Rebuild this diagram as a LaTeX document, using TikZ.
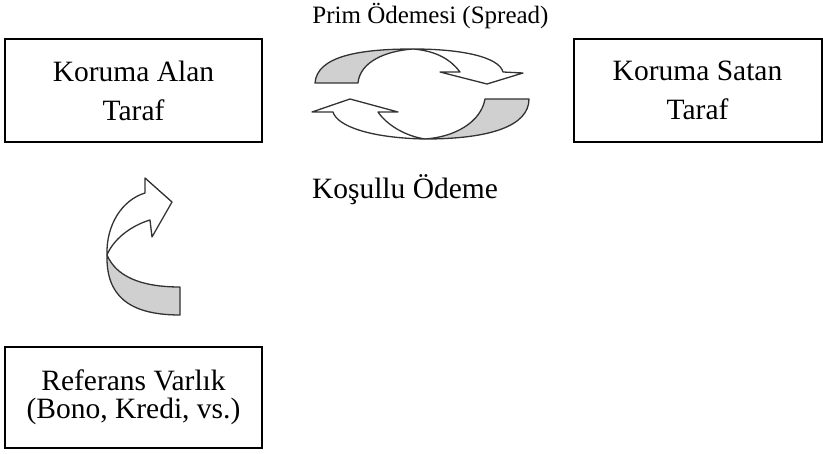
\documentclass[tikz,border=0pt]{standalone}
\usepackage{fontspec}
\setmainfont{Liberation Serif}
\definecolor{shade}{RGB}{208,208,208}
\definecolor{edge}{RGB}{50,50,50}
\tikzset{
  box/.style={draw=black, line width=2pt, align=center, inner sep=0pt,
    font=\fontsize{29.5}{39}\selectfont},
  lbl/.style={anchor=base, inner sep=0pt},
  band/.style={draw=edge, line width=1.3pt, line join=round},
}
\begin{document}
\begin{tikzpicture}[x=1pt,y=-1pt]
\useasboundingbox (0,0) rectangle (823,454);
% boxes
\node[box, minimum width=257pt, minimum height=103pt] (alan) at (133.5,90.5) {Koruma Alan\\Taraf};
\node[box, minimum width=248pt, minimum height=103pt] (satan) at (697.5,90.5) {Koruma Satan\\Taraf};
\node[box, minimum width=257pt, minimum height=101pt, font=\fontsize{29.5}{28}\selectfont] (ref) at (133.5,397.5) {Referans Varlık\\(Bono, Kredi, vs.)};
% labels
\node[lbl, font=\fontsize{25}{30}\selectfont] (prim) at (430.5,24) {Prim Ödemesi (Spread)};
\node[lbl, font=\fontsize{29.5}{38}\selectfont] (kosul) at (405,199) {Koşullu Ödeme};
% upper circular arrow
\draw[band, fill=shade] (315,83) .. controls (317,56) and (360,49) .. (413,49)
  .. controls (385,51) and (360,62) .. (358,83) -- cycle;
\draw[band, fill=white] (413,49) .. controls (462,49) and (499,57) .. (503,72)
  -- (523,73) -- (487,84) -- (440,72) -- (460,72)
  .. controls (451,60) and (437,51) .. (413,49) -- cycle;
% lower circular arrow
\draw[band, fill=shade] (529,99) .. controls (529,126) and (490,139) .. (425,139)
  .. controls (455,137) and (481,122) .. (485,99) -- cycle;
\draw[band, fill=white] (425,139) .. controls (370,138) and (337,126) .. (333,112)
  -- (312,112) -- (350,99) -- (398,112) -- (378,112)
  .. controls (387,125) and (405,136) .. (425,139) -- cycle;
% left curved arrow
\draw[band, fill=shade] (180,315) .. controls (128,315) and (106,295) .. (107,255)
  .. controls (116,276) and (140,287) .. (180,287) -- cycle;
\draw[band, fill=white] (107,255) .. controls (106,225) and (122,200) .. (145,193)
  -- (145,178) -- (172,202) -- (152,237) -- (150,220)
  .. controls (130,226) and (113,240) .. (107,255) -- cycle;
\end{tikzpicture}
\end{document}
